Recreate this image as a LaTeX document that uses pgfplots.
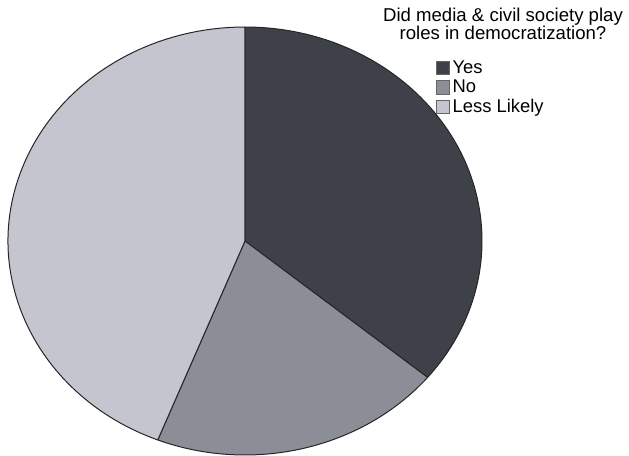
\documentclass[border=0pt]{standalone}
\usepackage{pgfplots}
\usepackage{pgfplotstable}
\pgfplotsset{compat=1.18}
\usepackage{fontspec}
\setmainfont{Liberation Sans}
\definecolor{yescol}{HTML}{3E4147}
\definecolor{nocol}{HTML}{8B8E97}
\definecolor{lesscol}{HTML}{C4C5CF}
\pgfplotstableread{
label value
Yes 36
No 20
Less 44
}\piedata
\pgfplotstablegetelem{0}{value}\of\piedata \let\vA\pgfplotsretval
\pgfplotstablegetelem{1}{value}\of\piedata \let\vB\pgfplotsretval
\pgfplotstablegetelem{2}{value}\of\piedata \let\vC\pgfplotsretval
\pgfmathsetmacro{\tot}{\vA+\vB+\vC}
\pgfmathsetmacro{\aA}{90}
\pgfmathsetmacro{\aB}{\aA-360*\vA/\tot}
\pgfmathsetmacro{\aC}{\aB-360*\vB/\tot}
\pgfmathsetmacro{\aD}{\aC-360*\vC/\tot}
\begin{document}
\begin{tikzpicture}
\useasboundingbox (0,0) rectangle (314.5pt,228pt);
\begin{axis}[
  at={(4pt,0.5pt)}, anchor=south west,
  scale only axis, width=237pt, height=214pt,
  xmin=-1, xmax=1, ymin=-1, ymax=1,
  hide axis, clip=false,
  legend style={at={(0.903,0.927)}, anchor=north west, draw=none, fill=none,
    font=\fontsize{9.2pt}{10pt}\selectfont, inner sep=0pt,
    row sep=-0.6pt, column sep=0pt,
    nodes={inner sep=1.2pt},
    legend cell align=left},
  legend image code/.code={\draw[#1] (0pt,-3pt) rectangle (6.5pt,3.7pt);},
]
\addlegendimage{fill=yescol, draw=black!60}
\addlegendentry{Yes}
\addlegendimage{fill=nocol, draw=black!60}
\addlegendentry{No}
\addlegendimage{fill=lesscol, draw=black!60}
\addlegendentry{Less Likely}
\filldraw[fill=yescol, draw=black!85, line width=0.5pt, line join=round]
  (axis cs:0,0) -- (axis cs:{cos(\aA)},{sin(\aA)})
  arc[start angle=\aA, end angle=\aB, x radius=118.5pt, y radius=107pt] -- cycle;
\filldraw[fill=nocol, draw=black!85, line width=0.5pt, line join=round]
  (axis cs:0,0) -- (axis cs:{cos(\aB)},{sin(\aB)})
  arc[start angle=\aB, end angle=\aC, x radius=118.5pt, y radius=107pt] -- cycle;
\filldraw[fill=lesscol, draw=black!85, line width=0.5pt, line join=round]
  (axis cs:0,0) -- (axis cs:{cos(\aC)},{sin(\aC)})
  arc[start angle=\aC, end angle=\aD, x radius=118.5pt, y radius=107pt] -- cycle;
\end{axis}
\node[align=center, font=\fontsize{9.3pt}{9pt}\selectfont, inner sep=0pt]
  at (251.5pt,216pt) {Did media \& civil society play\\roles in democratization?};
\end{tikzpicture}
\end{document}
